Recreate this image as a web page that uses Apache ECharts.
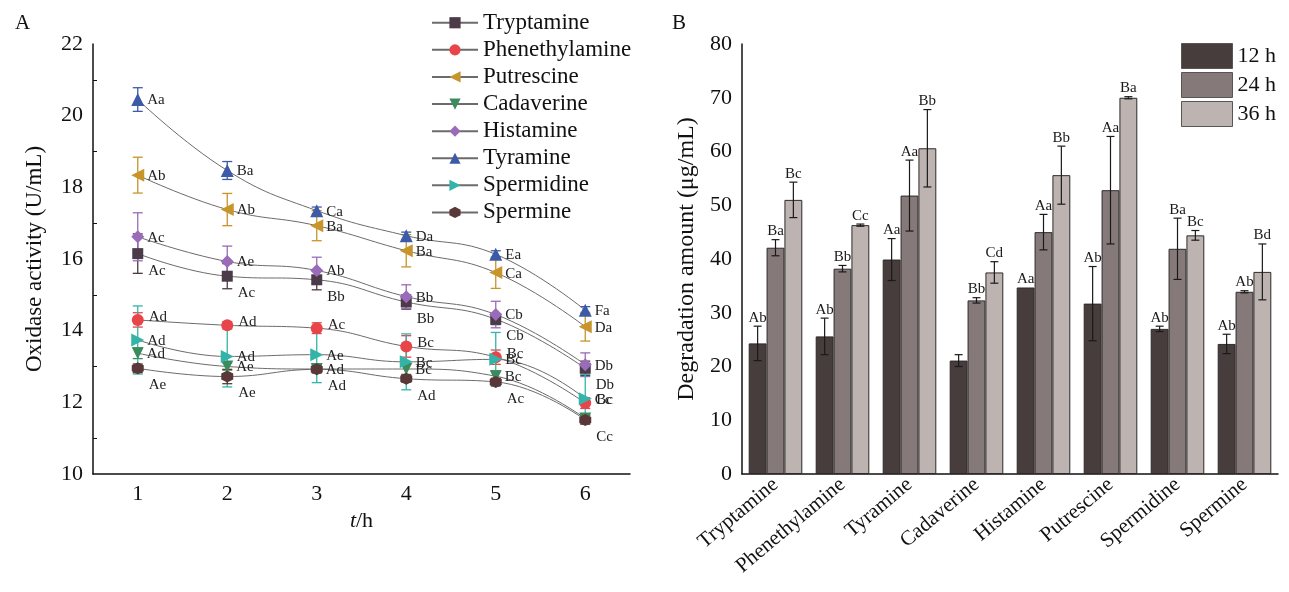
<!DOCTYPE html>
<html>
<head>
<meta charset="utf-8">
<script src="https://cdn.jsdelivr.net/npm/echarts@6/dist/echarts.min.js"></script>
<style>
  html, body { margin: 0; padding: 0; background: #fff; }
  #chart { width: 1289px; height: 592px; }
</style>
</head>
<body>
<div id="chart"></div>
<script>
// ---- panel A: oxidase activity over time ----
const hours = ['1', '2', '3', '4', '5', '6'];
const amines = ['Tryptamine', 'Phenethylamine', 'Putrescine', 'Cadaverine', 'Histamine', 'Tyramine', 'Spermidine', 'Spermine'];

const tryptamine = [16.15, 15.52, 15.42, 14.80, 14.32, 12.95];
const phenethylamine = [14.30, 14.15, 14.07, 13.56, 13.26, 11.98];
const putrescine = [18.34, 17.38, 16.93, 16.23, 15.62, 14.11];
const cadaverine = [13.37, 13.00, 12.93, 12.93, 12.73, 11.55];
const histamine = [16.62, 15.93, 15.68, 14.95, 14.45, 13.05];
const tyramine = [20.45, 18.47, 17.35, 16.65, 16.13, 14.57];
const spermidine = [13.74, 13.28, 13.33, 13.13, 13.20, 12.10];
const spermine = [12.95, 12.72, 12.92, 12.66, 12.57, 11.51];

const tryptamineErr = [0.55, 0.35, 0.28, 0.20, 0.15, 0.20];
const phenethylamineErr = [0.20, 0.10, 0.15, 0.30, 0.20, 0.15];
const putrescineErr = [0.50, 0.45, 0.42, 0.45, 0.44, 0.40];
const cadaverineErr = [0.15, 0.10, 0.10, 0.15, 0.15, 0.10];
const histamineErr = [0.67, 0.43, 0.37, 0.33, 0.37, 0.33];
const tyramineErr = [0.33, 0.25, 0.10, 0.10, 0.10, 0.10];
const spermidineErr = [0.95, 0.85, 0.78, 0.78, 0.75, 0.68];
const spermineErr = [0.12, 0.20, 0.10, 0.10, 0.10, 0.12];

const tryptamineSig = ['Ac', 'Ac', 'Bb', 'Bb', 'Cb', 'Db'];
const phenethylamineSig = ['Ad', 'Ad', 'Ac', 'Bc', 'Bc', 'Bc'];
const putrescineSig = ['Ab', 'Ab', 'Ba', 'Ba', 'Ca', 'Da'];
const cadaverineSig = ['Ad', 'Ae', 'Ad', 'Bc', 'Bc', ''];
const histamineSig = ['Ac', 'Ae', 'Ab', 'Bb', 'Cb', 'Db'];
const tyramineSig = ['Aa', 'Ba', 'Ca', 'Da', 'Ea', 'Fa'];
const spermidineSig = ['Ad', 'Ad', 'Ae', 'Bc', 'Bc', 'Cc'];
const spermineSig = ['Ae', 'Ae', 'Ad', 'Ad', 'Ac', 'Cc'];

// ---- panel B: degradation amount ----
const barAmines = ['Tryptamine', 'Phenethylamine', 'Tyramine', 'Cadaverine', 'Histamine', 'Putrescine', 'Spermidine', 'Spermine'];
const times = ['12 h', '24 h', '36 h'];
const deg12 = [24.3, 25.6, 39.9, 21.1, 34.7, 31.7, 27.0, 24.2];
const deg24 = [42.1, 38.2, 51.8, 32.3, 45.0, 52.8, 41.9, 33.9];
const deg36 = [51.0, 46.3, 60.6, 37.5, 55.6, 70.0, 44.4, 37.6];
const err12 = [3.2, 3.4, 3.9, 1.1, 0, 6.9, 0.5, 1.8];
const err24 = [1.5, 0.6, 6.6, 0.5, 3.3, 10.0, 5.7, 0.2];
const err36 = [3.3, 0.2, 7.2, 2.0, 5.4, 0.2, 0.9, 5.2];
const sig12 = ['Ab', 'Ab', 'Aa', '', 'Aa', 'Ab', 'Ab', 'Ab'];
const sig24 = ['Ba', 'Bb', 'Aa', 'Bb', 'Aa', 'Aa', 'Ba', 'Ab'];
const sig36 = ['Bc', 'Cc', 'Bb', 'Cd', 'Bb', 'Ba', 'Bc', 'Bd'];

const FONT = 'Liberation Serif';
const hexagon = 'path://M0,-1L0.866,-0.5L0.866,0.5L0,1L-0.866,0.5L-0.866,-0.5Z';

// marker style for every amine in panel A
const styles = {
  Tryptamine:     { vals: tryptamine, err: tryptamineErr, sig: tryptamineSig, color: '#4b3a48', symbol: 'rect', rotate: 0, size: 11, off: [2, 17] },
  Phenethylamine: { vals: phenethylamine, err: phenethylamineErr, sig: phenethylamineSig, color: '#e8454a', symbol: 'circle', rotate: 0, size: 12, off: [2, -3] },
  Putrescine:     { vals: putrescine, err: putrescineErr, sig: putrescineSig, color: '#c8942c', symbol: 'triangle', rotate: 90, size: 13, off: [0, 1] },
  Cadaverine:     { vals: cadaverine, err: cadaverineErr, sig: cadaverineSig, color: '#3a8c5c', symbol: 'triangle', rotate: 180, size: 12, off: [0, 1] },
  Histamine:      { vals: histamine, err: histamineErr, sig: histamineSig, color: '#9a6bb8', symbol: 'diamond', rotate: 0, size: 13, off: [0, 1] },
  Tyramine:       { vals: tyramine, err: tyramineErr, sig: tyramineSig, color: '#3d5aa8', symbol: 'triangle', rotate: 0, size: 13, off: [0, 1] },
  Spermidine:     { vals: spermidine, err: spermidineErr, sig: spermidineSig, color: '#34b4a8', symbol: 'triangle', rotate: -90, size: 13, off: [0, 1] },
  Spermine:       { vals: spermine, err: spermineErr, sig: spermineSig, color: '#5a3838', symbol: hexagon, rotate: 0, size: 12, off: [2, 17] }
};

function errorBars(color, capHalf, xIndex, yIndex) {
  return {
    type: 'custom',
    xAxisIndex: xIndex,
    yAxisIndex: yIndex,
    silent: true,
    z: 1,
    renderItem: function (params, api) {
      const top = api.coord([api.value(0), api.value(2)]);
      const bot = api.coord([api.value(0), api.value(1)]);
      const style = { stroke: color, lineWidth: 1.3 };
      return {
        type: 'group',
        children: [
          { type: 'line', shape: { x1: top[0], y1: top[1], x2: bot[0], y2: bot[1] }, style: style },
          { type: 'line', shape: { x1: top[0] - capHalf, y1: top[1], x2: top[0] + capHalf, y2: top[1] }, style: style },
          { type: 'line', shape: { x1: bot[0] - capHalf, y1: bot[1], x2: bot[0] + capHalf, y2: bot[1] }, style: style }
        ]
      };
    }
  };
}

const series = [];
amines.forEach(name => {
  const s = styles[name];
  const eb = errorBars(s.color, 5, 0, 0);
  eb.name = name + ' error';
  eb.data = s.vals.map((v, i) => [i, v - s.err[i], v + s.err[i]]);
  series.push(eb);
  series.push({
    name: name,
    type: 'line',
    xAxisIndex: 0,
    yAxisIndex: 0,
    smooth: 0.45,
    symbol: s.symbol,
    symbolRotate: s.rotate,
    symbolSize: s.size,
    z: 3,
    lineStyle: { color: '#6e6a6a', width: 1 },
    itemStyle: { color: s.color },
    label: {
      show: true,
      position: 'right',
      distance: 3,
      offset: s.off,
      fontFamily: FONT,
      fontSize: 15,
      color: '#222',
      formatter: p => s.sig[p.dataIndex]
    },
    data: s.vals
  });
});

// bars for panel B
const barColors = ['#463d3c', '#857a79', '#bdb4b2'];
const barSets = [
  { name: times[0], vals: deg12, err: err12, sig: sig12 },
  { name: times[1], vals: deg24, err: err24, sig: sig24 },
  { name: times[2], vals: deg36, err: err36, sig: sig36 }
];
barSets.forEach((b, k) => {
  series.push({
    name: b.name,
    type: 'bar',
    xAxisIndex: 1,
    yAxisIndex: 1,
    barGap: '0%',
    barCategoryGap: '20%',
    itemStyle: { color: barColors[k], borderColor: '#2e2a2a', borderWidth: 1 },
    data: b.vals
  });
});
barSets.forEach((b, k) => {
  series.push({
    name: b.name + ' error',
    type: 'custom',
    xAxisIndex: 1,
    yAxisIndex: 1,
    silent: true,
    z: 5,
    renderItem: function (params, api) {
      const i = api.value(0);
      const catW = api.size([1, 0])[0];
      const shift = (k - 1) * catW * 0.8 / 3;
      const top = api.coord([i, api.value(2)]);
      const bot = api.coord([i, api.value(1)]);
      const x = top[0] + shift;
      const style = { stroke: '#1a1a1a', lineWidth: 1.2 };
      const kids = [];
      if (api.value(2) - api.value(1) > 0.01) {
        kids.push({ type: 'line', shape: { x1: x, y1: top[1], x2: x, y2: bot[1] }, style: style });
        kids.push({ type: 'line', shape: { x1: x - 4, y1: top[1], x2: x + 4, y2: top[1] }, style: style });
        kids.push({ type: 'line', shape: { x1: x - 4, y1: bot[1], x2: x + 4, y2: bot[1] }, style: style });
      }
      kids.push({
        type: 'text',
        style: {
          text: b.sig[i], x: x, y: top[1] - 1,
          align: 'center', verticalAlign: 'bottom',
          fontFamily: FONT, fontSize: 15, fill: '#1a1a1a'
        }
      });
      return { type: 'group', children: kids };
    },
    data: b.vals.map((v, i) => [i, v - b.err[i], v + b.err[i]])
  });
});

const axisLine = { show: true, lineStyle: { color: '#111', width: 1.5 } };
const tickFont = { fontFamily: FONT, fontSize: 22, color: '#111' };

const option = {
  animation: false,
  backgroundColor: '#fff',
  textStyle: { fontFamily: FONT },
  title: [
    { text: 'A', left: 10, top: 8, textStyle: { fontFamily: FONT, fontSize: 21, fontWeight: 'normal', color: '#111' } },
    { text: 'B', left: 667, top: 8, textStyle: { fontFamily: FONT, fontSize: 21, fontWeight: 'normal', color: '#111' } }
  ],
  legend: [
    {
      data: amines,
      orient: 'vertical',
      left: 426,
      top: 6,
      itemWidth: 46,
      itemHeight: 14,
      itemGap: 3.6,
      textStyle: { fontFamily: FONT, fontSize: 23, color: '#111', lineHeight: 23.5 }
    },
    {
      data: times,
      orient: 'vertical',
      left: 1176,
      top: 38,
      icon: 'rect',
      itemWidth: 51,
      itemHeight: 25,
      itemGap: 3,
      itemStyle: { borderColor: '#5a5555', borderWidth: 1 },
      textStyle: { fontFamily: FONT, fontSize: 22, color: '#111' }
    }
  ],
  grid: [
    { left: 93, top: 44, width: 537, height: 430 },
    { left: 742, top: 44, width: 536, height: 430 }
  ],
  xAxis: [
    {
      type: 'category',
      gridIndex: 0,
      data: hours,
      name: '{i|t}/h',
      nameLocation: 'middle',
      nameGap: 36,
      nameTextStyle: {
        fontFamily: FONT, fontSize: 22, color: '#111',
        rich: { i: { fontFamily: FONT, fontSize: 22, fontStyle: 'italic', color: '#111' } }
      },
      axisLine: axisLine,
      axisTick: { inside: true, alignWithLabel: true, length: 6, lineStyle: { color: '#111' } },
      axisLabel: Object.assign({ margin: 9 }, tickFont),
      splitLine: { show: false }
    },
    {
      type: 'category',
      gridIndex: 1,
      data: barAmines,
      axisLine: axisLine,
      axisTick: { inside: true, alignWithLabel: true, length: 6, lineStyle: { color: '#111' } },
      axisLabel: { rotate: 40, margin: 8, fontFamily: FONT, fontSize: 21, color: '#111', interval: 0 },
      splitLine: { show: false }
    }
  ],
  yAxis: [
    {
      type: 'value',
      gridIndex: 0,
      min: 10,
      max: 22,
      interval: 2,
      name: 'Oxidase activity (U/mL)',
      nameLocation: 'middle',
      nameGap: 47,
      nameTextStyle: { fontFamily: FONT, fontSize: 23, color: '#111' },
      axisLine: axisLine,
      axisTick: { inside: true, length: 7, lineStyle: { color: '#111' } },
      minorTick: { show: true, splitNumber: 2, length: 4, lineStyle: { color: '#111' } },
      axisLabel: Object.assign({ margin: 10 }, tickFont),
      splitLine: { show: false }
    },
    {
      type: 'value',
      gridIndex: 1,
      min: 0,
      max: 80,
      interval: 10,
      name: 'Degradation amount (\u03bcg/mL)',
      nameLocation: 'middle',
      nameGap: 43,
      nameTextStyle: { fontFamily: FONT, fontSize: 24, color: '#111' },
      axisLine: axisLine,
      axisTick: { inside: true, length: 7, lineStyle: { color: '#111' } },
      axisLabel: Object.assign({ margin: 10 }, tickFont),
      splitLine: { show: false }
    }
  ],
  series: series
};

const chart = echarts.init(document.getElementById('chart'));
chart.setOption(option);
</script>
</body>
</html>
